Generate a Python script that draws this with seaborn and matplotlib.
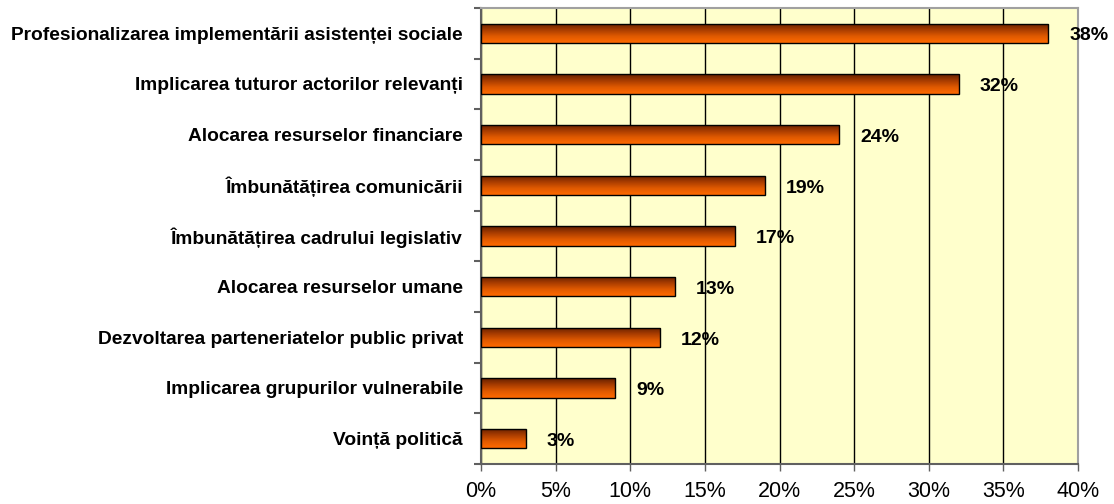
import matplotlib
matplotlib.use("Agg")
import matplotlib.pyplot as plt
import numpy as np
import pandas as pd
import seaborn as sns
from matplotlib.colors import LinearSegmentedColormap

sns.set_theme(style="white")
plt.rcParams['font.family'] = ['Liberation Sans', 'DejaVu Sans']
plt.rcParams['text.color'] = 'black'
plt.rcParams['xtick.color'] = 'black'
plt.rcParams['ytick.color'] = 'black'

categories = [
    'Profesionalizarea implementării asistenței sociale',
    'Implicarea tuturor actorilor relevanți',
    'Alocarea resurselor financiare',
    'Îmbunătățirea comunicării',
    'Îmbunătățirea cadrului legislativ',
    'Alocarea resurselor umane',
    'Dezvoltarea parteneriatelor public privat',
    'Implicarea grupurilor vulnerabile',
    'Voință politică',
]
values = [38, 32, 24, 19, 17, 13, 12, 9, 3]
x_ticks = [0, 5, 10, 15, 20, 25, 30, 35, 40]

df = pd.DataFrame({'cat': categories, 'val': values})

fig = plt.figure(figsize=(11.14, 5.04), dpi=100)
ax = fig.add_axes([0.4318, 0.0794, 0.536, 0.905])
ax.set_facecolor('#ffffcc')

sns.barplot(data=df, x='val', y='cat', orient='h', color='#ff6600',
            width=0.38, edgecolor='black', linewidth=1.0, ax=ax, zorder=3)

# vertical gradient fill on bars (dark brown top -> orange bottom)
cmap = LinearSegmentedColormap.from_list('grad', ['#642000', '#a83c00', '#e05a00', '#ff6a00'])
grad = np.linspace(0, 1, 64).reshape(-1, 1)
for p in ax.patches:
    x0, y0 = p.get_x(), p.get_y()
    w, h = p.get_width(), p.get_height()
    im = ax.imshow(grad, cmap=cmap, aspect='auto', extent=(x0, x0 + w, y0 + h, y0),
                   origin='upper', zorder=3.5)
    im.set_clip_path(p)
    p.set_facecolor('none')
    p.set_zorder(4)

for i, v in enumerate(values):
    ax.annotate(f'{v}%', (v, i), xytext=(15, -2), textcoords='offset points',
                ha='left', va='center', fontsize=14, fontweight='bold', color='black',
                zorder=5)

ax.set_xlim(0, 40)
ax.set_ylim(len(categories) - 0.5, -0.5)
ax.set_xticks(x_ticks)
ax.set_xticklabels([f'{t}%' for t in x_ticks], fontsize=15.5)
ax.set_xlabel('')
ax.set_ylabel('')
ax.set_yticks(range(len(categories)))
ax.set_yticklabels(categories, fontsize=13.8, fontweight='bold')
ax.set_yticks(np.arange(-0.5, len(categories), 1), minor=True)
ax.tick_params(axis='y', which='major', length=0, pad=13)
ax.tick_params(axis='y', which='minor', length=5, color='#606060', width=1.5, direction='out', left=True)
ax.tick_params(axis='x', length=5, color='#606060', width=1, pad=7, bottom=True, direction='out')

ax.grid(axis='x', color='black', linewidth=1, zorder=1)
ax.set_axisbelow(True)
for s in ['top', 'right']:
    ax.spines[s].set_color('#a0a0a0')
    ax.spines[s].set_linewidth(1.5)
for s in ['left', 'bottom']:
    ax.spines[s].set_color('#606060')
    ax.spines[s].set_linewidth(1.5)

fig.savefig('out.png', dpi=100)
